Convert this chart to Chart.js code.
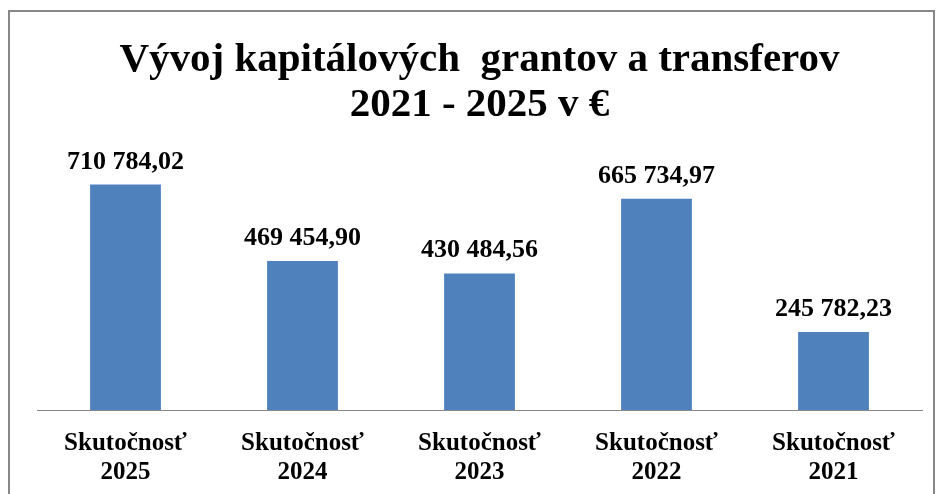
<!DOCTYPE html>
<html>
<head>
<meta charset="utf-8">
<script src="https://cdn.jsdelivr.net/npm/chart.js@4.4.1/dist/chart.umd.min.js"></script>
<style>
  html, body { margin: 0; padding: 0; background: #fff; }
  #wrap { width: 939px; height: 494px; position: relative; }
</style>
</head>
<body>
<div id="wrap"><canvas id="chart"></canvas></div>
<script>
const categories = [['Skutočnosť', '2025'], ['Skutočnosť', '2024'], ['Skutočnosť', '2023'], ['Skutočnosť', '2022'], ['Skutočnosť', '2021']];
const values = [710784.02, 469454.90, 430484.56, 665734.97, 245782.23];
const titleLines = ['Vývoj kapitálových  grantov a transferov', '2021 - 2025 v €'];

const SERIF = '"Liberation Serif", "Times New Roman", serif';

// 710784.02 -> "710 784,02"
function formatValue(v) {
  const parts = v.toFixed(2).split('.');
  const intPart = parts[0].replace(/\B(?=(\d{3})+(?!\d))/g, ' ');
  return intPart + ',' + parts[1];
}

const frame = {
  id: 'frame',
  beforeDraw(chart) {
    const ctx = chart.ctx;
    ctx.save();
    ctx.fillStyle = '#fff';
    ctx.fillRect(0, 0, chart.width, chart.height);
    ctx.strokeStyle = '#888888';
    ctx.lineWidth = 2;
    ctx.strokeRect(9, 11, 925, 500);
    ctx.restore();
  }
};

const valueLabels = {
  id: 'valueLabels',
  afterDatasetsDraw(chart) {
    const ctx = chart.ctx;
    const meta = chart.getDatasetMeta(0);
    ctx.save();
    ctx.font = 'bold 26px ' + SERIF;
    ctx.fillStyle = '#000';
    ctx.textAlign = 'center';
    ctx.textBaseline = 'alphabetic';
    meta.data.forEach((bar, i) => {
      ctx.fillText(formatValue(values[i]), bar.x, bar.y - 16);
    });
    ctx.restore();
  }
};

new Chart(document.getElementById('chart'), {
  type: 'bar',
  data: {
    labels: categories,
    datasets: [{
      data: values,
      backgroundColor: '#4F81BD',
      borderWidth: 0,
      categoryPercentage: 1,
      barPercentage: 0.4
    }]
  },
  options: {
    responsive: true,
    maintainAspectRatio: false,
    animation: false,
    layout: { padding: { left: 37, right: 17, top: 18, bottom: 0 } },
    plugins: {
      legend: { display: false },
      tooltip: { enabled: false },
      title: {
        display: true,
        text: titleLines,
        color: '#000',
        font: { family: SERIF, size: 41, weight: 'bold', lineHeight: 1.1 },
        padding: { top: 20, bottom: 28 }
      }
    },
    scales: {
      y: {
        display: false,
        min: 0,
        max: 800000
      },
      x: {
        afterFit(scale) { scale.height = 84; },
        grid: { display: false, drawTicks: false },
        border: { display: true, color: '#868686', width: 1 },
        ticks: {
          color: '#000',
          padding: 19,
          maxRotation: 0,
          font: { family: SERIF, size: 25, weight: 'bold', lineHeight: 1.16 }
        }
      }
    }
  },
  plugins: [frame, valueLabels]
});
</script>
</body>
</html>
